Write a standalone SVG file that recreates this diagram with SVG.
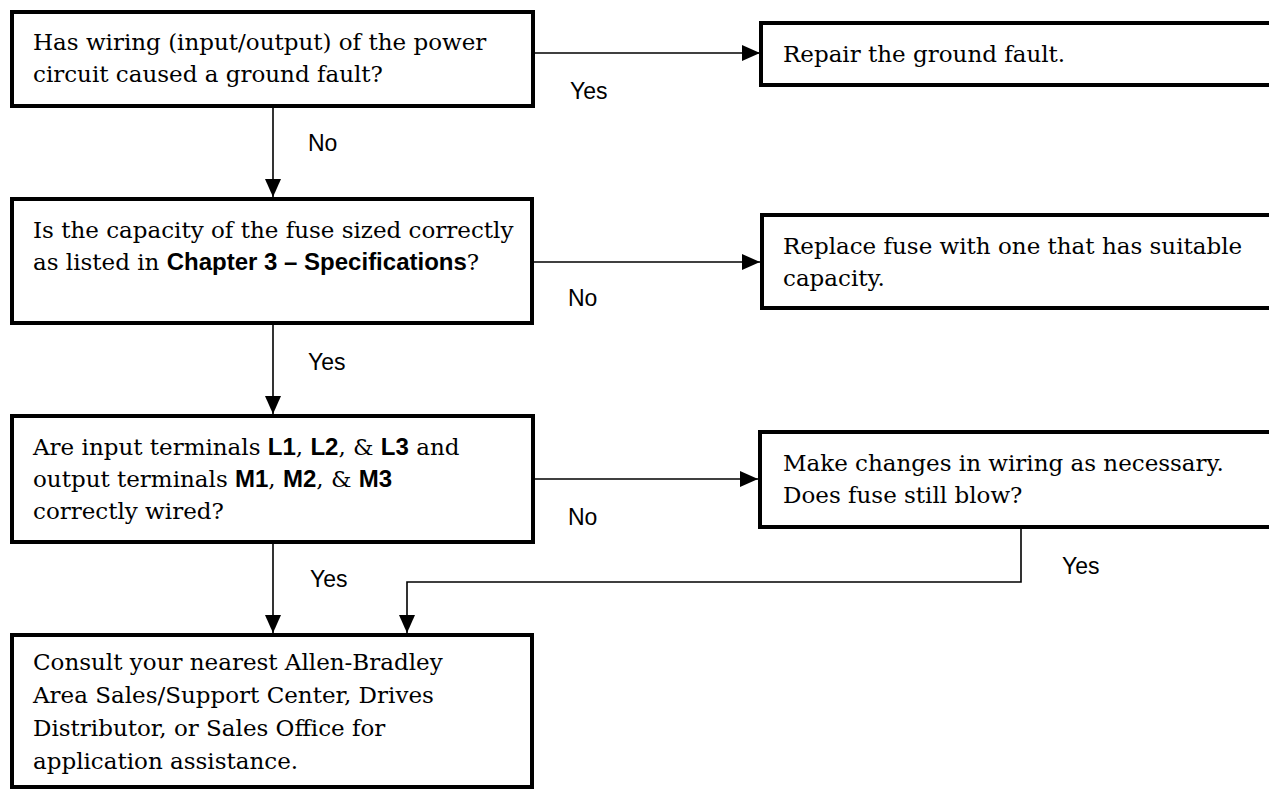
<svg xmlns="http://www.w3.org/2000/svg" width="1269" height="789" viewBox="0 0 1269 789">
<style>
.box{fill:#fff;stroke:#000;stroke-width:4}
.t{font-family:"DejaVu Serif","Liberation Serif",serif;font-size:23px;fill:#000}
.b{font-family:"Liberation Sans","DejaVu Sans",sans-serif;font-weight:bold;font-size:24px}
.lbl{font-family:"Liberation Sans","DejaVu Sans",sans-serif;font-size:23px;fill:#000}
.c{fill:none;stroke:#000;stroke-width:1.6}
</style>
<defs>
<marker id="ah" markerUnits="userSpaceOnUse" markerWidth="18" markerHeight="16" refX="18" refY="8" orient="auto">
<path d="M0,0 L18,8 L0,16 z" fill="#000"/>
</marker>
</defs>
<rect width="1269" height="789" fill="#fff"/>
<g id="connectors">
<line class="c" x1="533" y1="53" x2="760" y2="53" marker-end="url(#ah)"/>
<line class="c" x1="273" y1="106" x2="273" y2="197" marker-end="url(#ah)"/>
<line class="c" x1="532" y1="262" x2="760" y2="262" marker-end="url(#ah)"/>
<line class="c" x1="273" y1="323" x2="273" y2="414" marker-end="url(#ah)"/>
<line class="c" x1="533" y1="479" x2="758" y2="479" marker-end="url(#ah)"/>
<line class="c" x1="273" y1="542" x2="273" y2="633" marker-end="url(#ah)"/>
<polyline class="c" points="1021,527 1021,582 407,582 407,633" marker-end="url(#ah)"/>
<text class="lbl" x="570" y="99">Yes</text>
<text class="lbl" x="308" y="151">No</text>
<text class="lbl" x="568" y="306">No</text>
<text class="lbl" x="308" y="370">Yes</text>
<text class="lbl" x="568" y="525">No</text>
<text class="lbl" x="310" y="587">Yes</text>
<text class="lbl" x="1062" y="574">Yes</text>
</g>
<g id="q1">
<rect class="box" x="12" y="12" width="521" height="94"/>
<text class="t" x="33" y="50">Has wiring (input/output) of the power</text>
<text class="t" x="33" y="82">circuit caused a ground fault?</text>
</g>
<g id="a1">
<rect class="box" x="761" y="23" width="520" height="62"/>
<text class="t" x="783" y="62">Repair the ground fault.</text>
</g>
<g id="q2">
<rect class="box" x="12" y="199" width="520" height="124"/>
<text class="t" x="33" y="238">Is the capacity of the fuse sized correctly</text>
<text class="t" x="33" y="270">as listed in <tspan class="b">Chapter 3 – Specifications</tspan>?</text>
</g>
<g id="a2">
<rect class="box" x="762" y="215" width="520" height="93"/>
<text class="t" x="783" y="254">Replace fuse with one that has suitable</text>
<text class="t" x="783" y="286">capacity.</text>
</g>
<g id="q3">
<rect class="box" x="12" y="416" width="521" height="126"/>
<text class="t" x="33" y="455">Are input terminals <tspan class="b">L1</tspan>, <tspan class="b">L2</tspan>, &amp; <tspan class="b">L3</tspan> and</text>
<text class="t" x="33" y="487">output terminals <tspan class="b">M1</tspan>, <tspan class="b">M2</tspan>, &amp; <tspan class="b">M3</tspan></text>
<text class="t" x="33" y="519">correctly wired?</text>
</g>
<g id="a3">
<rect class="box" x="760" y="432" width="522" height="95"/>
<text class="t" x="783" y="471">Make changes in wiring as necessary.</text>
<text class="t" x="783" y="503">Does fuse still blow?</text>
</g>
<g id="a4">
<rect class="box" x="12" y="635" width="520" height="152"/>
<text class="t" x="33" y="670">Consult your nearest Allen-Bradley</text>
<text class="t" x="33" y="703">Area Sales/Support Center, Drives</text>
<text class="t" x="33" y="736">Distributor, or Sales Office for</text>
<text class="t" x="33" y="769">application assistance.</text>
</g>
</svg>
